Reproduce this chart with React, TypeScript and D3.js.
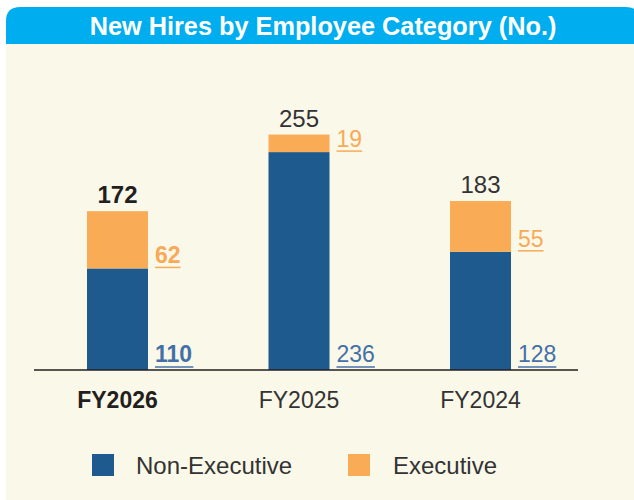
import React from "react";
import * as d3 from "d3";

const categories = ["FY2026", "FY2025", "FY2024"];
const nonExecutive = [110, 236, 128];
const executive = [62, 19, 55];
const totals = [172, 255, 183];
const highlight = [true, false, false];
const seriesNames = ["Non-Executive", "Executive"];
const title = "New Hires by Employee Category (No.)";

const W = 634;
const H = 500;
const FONT = "'Liberation Sans', Arial, Helvetica, sans-serif";
const BLUE = "#1f5a8e";
const ORANGE = "#f9ac55";
const BLUE_TXT = "#4470a8";
const ORANGE_TXT = "#f8aa58";
const CREAM = "#faf8e9";
const HEADER = "#00aeef";
const DARK = "#231f20";

export default function App() {
  const baseY = 370;
  const x = d3.scalePoint<string>().domain(categories).range([117.5, 480.5]);
  const y = d3.scaleLinear().domain([0, 300]).range([baseY, baseY - 277]);
  const barW = 61;
  const labelFs = 23;
  const digitW = 0.556 * labelFs;

  const stack = d3.stack<any>().keys(["ne", "ex"])(
    categories.map((c, i) => ({ cat: c, ne: nonExecutive[i], ex: executive[i] }))
  );

  const r = 14;
  const hx0 = 6, hy0 = 7, hx1 = 640, hy1 = 44;
  const headerPath = `M${hx0},${hy1} L${hx0},${hy0 + r} Q${hx0},${hy0} ${hx0 + r},${hy0} L${hx1 - r},${hy0} Q${hx1},${hy0} ${hx1},${hy0 + r} L${hx1},${hy1} Z`;

  const legendItems = [
    { name: seriesNames[0], color: BLUE, sx: 92, tx: 136 },
    { name: seriesNames[1], color: ORANGE, sx: 348, tx: 393 },
  ];

  return (
    <svg
      width={W}
      height={H}
      style={{ position: "fixed", left: 0, top: 0, background: "#ffffff" }}
      fontFamily={FONT}
    >
      <rect x={hx0} y={hy1} width={W - hx0} height={H - hy1} fill={CREAM} />
      <path d={headerPath} fill={HEADER} />
      <text
        x={323}
        y={35}
        textAnchor="middle"
        fill="#ffffff"
        fontWeight="bold"
        fontSize={25.3}
      >
        {title}
      </text>

      {/* bars */}
      {stack.map((layer, li) =>
        layer.map((d, i) => (
          <rect
            key={`${li}-${i}`}
            x={(x(categories[i]) as number) - barW / 2}
            y={y(d[1])}
            width={barW}
            height={y(d[0]) - y(d[1])}
            fill={li === 0 ? BLUE : ORANGE}
          />
        ))
      )}

      {/* axis line */}
      <line x1={34} x2={578} y1={baseY} y2={baseY} stroke={DARK} strokeWidth={1.5} />

      {categories.map((c, i) => {
        const cx = x(c) as number;
        const bold = highlight[i];
        const lx = cx + barW / 2 + 7;
        const boundary = y(nonExecutive[i]);
        const top = y(totals[i]);
        const exStr = String(executive[i]);
        const neStr = String(nonExecutive[i]);
        return (
          <g key={c}>
            <text
              x={cx}
              y={top - 8}
              textAnchor="middle"
              fontSize={24}
              fontWeight={bold ? "bold" : "normal"}
              fill={bold ? DARK : "#333333"}
            >
              {totals[i]}
            </text>
            <text
              x={lx}
              y={boundary - 5}
              fontSize={labelFs}
              fontWeight={bold ? "bold" : "normal"}
              fill={ORANGE_TXT}
            >
              {exStr}
            </text>
            <line
              x1={lx}
              x2={lx + exStr.length * digitW}
              y1={boundary - 1}
              y2={boundary - 1}
              stroke={ORANGE_TXT}
              strokeWidth={1.5}
            />
            <text
              x={lx}
              y={baseY - 8}
              fontSize={labelFs}
              fontWeight={bold ? "bold" : "normal"}
              fill={BLUE_TXT}
            >
              {neStr}
            </text>
            <line
              x1={lx}
              x2={lx + neStr.length * digitW}
              y1={baseY - 3}
              y2={baseY - 3}
              stroke={BLUE_TXT}
              strokeWidth={1.5}
            />
            <text
              x={cx}
              y={408}
              textAnchor="middle"
              fontSize={23}
              fontWeight={bold ? "bold" : "normal"}
              fill={bold ? DARK : "#333333"}
            >
              {c}
            </text>
          </g>
        );
      })}

      {/* legend */}
      {legendItems.map((it) => (
        <g key={it.name}>
          <rect x={it.sx} y={454} width={22} height={22} fill={it.color} />
          <text x={it.tx} y={474} fontSize={24} fill="#333333">
            {it.name}
          </text>
        </g>
      ))}
    </svg>
  );
}
